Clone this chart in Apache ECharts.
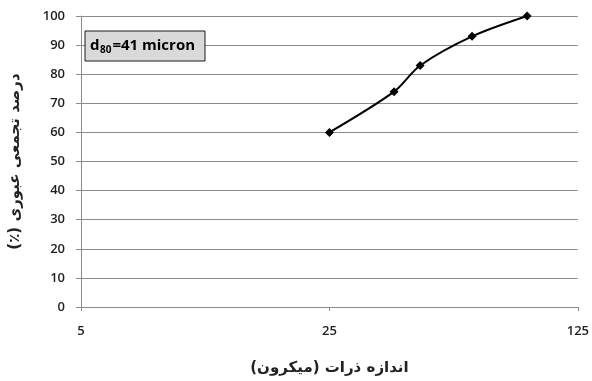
<!DOCTYPE html>
<html>
<head>
<meta charset="utf-8">
<script src="https://cdn.jsdelivr.net/npm/echarts@6/dist/echarts.min.js"></script>
<style>
  html, body { margin: 0; padding: 0; background: #fff; }
  #chart { width: 592px; height: 381px; }
</style>
</head>
<body>
<div id="chart"></div>
<script>
// Particle size (micron) vs cumulative passing (%)
const sizes = [25, 38, 45, 63, 90];
const passing = [60, 74, 83, 93, 100];
// trailing RLM keeps the right-to-left order of the axis titles
const xAxisTitle = 'اندازه ذرات (میکرون)\u200F';
const yAxisTitle = 'درصد تجمعی عبوری (٪)\u200F';
const d80Value = 41;

const labelFont = '"Open Sans", "Liberation Sans", sans-serif';
const persianFont = '"DejaVu Sans", "Noto Sans", sans-serif';

// d80 note box and the widths of its text pieces
const box = { x: 85, y: 31, w: 120, h: 30 };
const ctx = document.createElement('canvas').getContext('2d');
ctx.font = 'bold 15px ' + labelFont;
const wD = ctx.measureText('d').width;
ctx.font = 'bold 10px ' + labelFont;
const wSub = ctx.measureText('80').width;
const noteX = box.x + 5;
const noteY = box.y + box.h / 2;

const mainStyle = { fontFamily: labelFont, fontWeight: 'bold', fontSize: 15, fill: '#000', verticalAlign: 'middle', align: 'left' };
const subStyle = { fontFamily: labelFont, fontWeight: 'bold', fontSize: 10, fill: '#000', verticalAlign: 'middle', align: 'left' };

const chart = echarts.init(document.getElementById('chart'));
chart.setOption({
  animation: false,
  backgroundColor: '#ffffff',
  grid: { left: 77, right: 9, top: 16, bottom: 73 },
  xAxis: {
    type: 'log',
    logBase: 5,
    min: 5,
    max: 125,
    name: xAxisTitle,
    nameLocation: 'middle',
    nameGap: 54,
    nameTextStyle: { fontFamily: persianFont, fontWeight: 'bold', fontSize: 15, color: '#222' },
    axisLine: { lineStyle: { color: '#8c8c8c', width: 1 } },
    axisTick: { show: true, length: 4, lineStyle: { color: '#8c8c8c' } },
    axisLabel: { margin: 18, fontFamily: labelFont, fontWeight: 600, fontSize: 13, color: '#1e1e1e' },
    splitLine: { show: false },
    minorTick: { show: false }
  },
  yAxis: {
    type: 'value',
    min: 0,
    max: 100,
    interval: 10,
    name: yAxisTitle,
    nameLocation: 'middle',
    nameRotate: 90,
    nameGap: 58,
    nameTextStyle: { fontFamily: persianFont, fontWeight: 'bold', fontSize: 15, color: '#222' },
    axisLine: { show: true, lineStyle: { color: '#8c8c8c', width: 1 } },
    axisTick: { show: true, inside: false, length: 5, lineStyle: { color: '#8c8c8c' } },
    axisLabel: { margin: 16, fontFamily: labelFont, fontWeight: 600, fontSize: 13, color: '#1e1e1e' },
    splitLine: { show: true, lineStyle: { color: '#8c8c8c', width: 1 } }
  },
  series: [{
    type: 'line',
    data: sizes.map((s, i) => [s, passing[i]]),
    smooth: 0.3,
    symbol: 'diamond',
    symbolSize: 9,
    lineStyle: { color: '#000', width: 2 },
    itemStyle: { color: '#000' }
  }],
  graphic: [
    {
      type: 'rect',
      shape: { x: box.x, y: box.y, width: box.w, height: box.h },
      style: { fill: '#d9d9d9', stroke: '#1a1a1a', lineWidth: 1 },
      z: 10
    },
    {
      type: 'text', x: noteX, y: noteY, z: 11,
      style: Object.assign({ text: 'd' }, mainStyle)
    },
    {
      type: 'text', x: noteX + wD + 0.5, y: noteY + 4, z: 11,
      style: Object.assign({ text: '80' }, subStyle)
    },
    {
      type: 'text', x: noteX + wD + wSub + 1.5, y: noteY, z: 11,
      style: Object.assign({ text: '=' + d80Value + ' micron' }, mainStyle)
    }
  ]
});
</script>
</body>
</html>
